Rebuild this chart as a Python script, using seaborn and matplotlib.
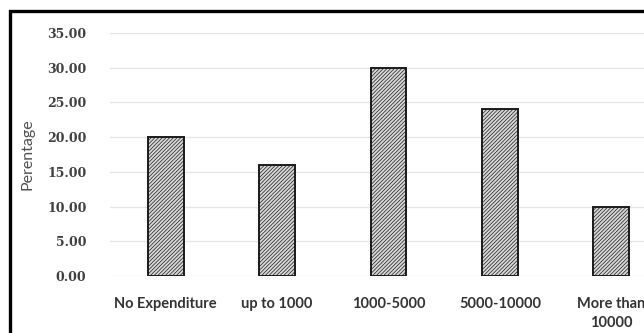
import matplotlib
matplotlib.use("Agg")
import matplotlib.pyplot as plt
import seaborn as sns
from matplotlib.patches import Rectangle

categories = ["No Expenditure", "up to 1000", "1000-5000", "5000-10000", "More than\n10000"]
percentages = [20.0, 16.0, 30.0, 24.0, 10.0]
y_ticks = [0, 5, 10, 15, 20, 25, 30, 35]

sns.set_theme(style="white")
plt.rcParams["font.family"] = ["Lato", "DejaVu Sans"]
plt.rcParams["hatch.linewidth"] = 0.5

W, H = 644, 333
fig = plt.figure(figsize=(W / 100, H / 100), dpi=100)
fig.patch.set_facecolor("white")

# plot area runs past the right edge of the canvas
left, right, top, bottom = 110, 667, 33, 276
ax = fig.add_axes([left / W, (H - bottom) / H, (right - left) / W, (bottom - top) / H])

sns.barplot(x=categories, y=percentages, ax=ax, width=0.32,
            color="#d8d8d8", edgecolor="#1a1a1a", linewidth=1.4, saturation=1)
for p in ax.patches:
    p.set_hatch("/////////")

ax.set_ylim(0, 35)
ax.set_xlim(-0.5, len(categories) - 0.5)
ax.set_yticks(y_ticks)
ax.set_yticklabels([f"{v:.2f}" for v in y_ticks], fontsize=9, fontweight="bold",
                   color="#404040", family=["DejaVu Serif"])
ax.tick_params(axis="y", length=0, pad=17)
ax.tick_params(axis="x", length=0, pad=15, labelsize=10.5, labelcolor="#333333")
for lbl in ax.get_xticklabels():
    lbl.set_fontweight("bold")
    lbl.set_linespacing(1.45)
ax.yaxis.grid(True, color="#e4e4e4", linewidth=0.9)
ax.set_axisbelow(True)
for s in ax.spines.values():
    s.set_visible(False)

ax.set_ylabel("Perentage", fontsize=11.5, color="#505050", labelpad=9)

# outer chart border
fig.patches.append(Rectangle((10 / W, -0.1), 1.2, (H - 11) / H + 0.1,
                             transform=fig.transFigure, fill=False,
                             edgecolor="black", linewidth=2.4))

fig.savefig("out.png", dpi=100)
